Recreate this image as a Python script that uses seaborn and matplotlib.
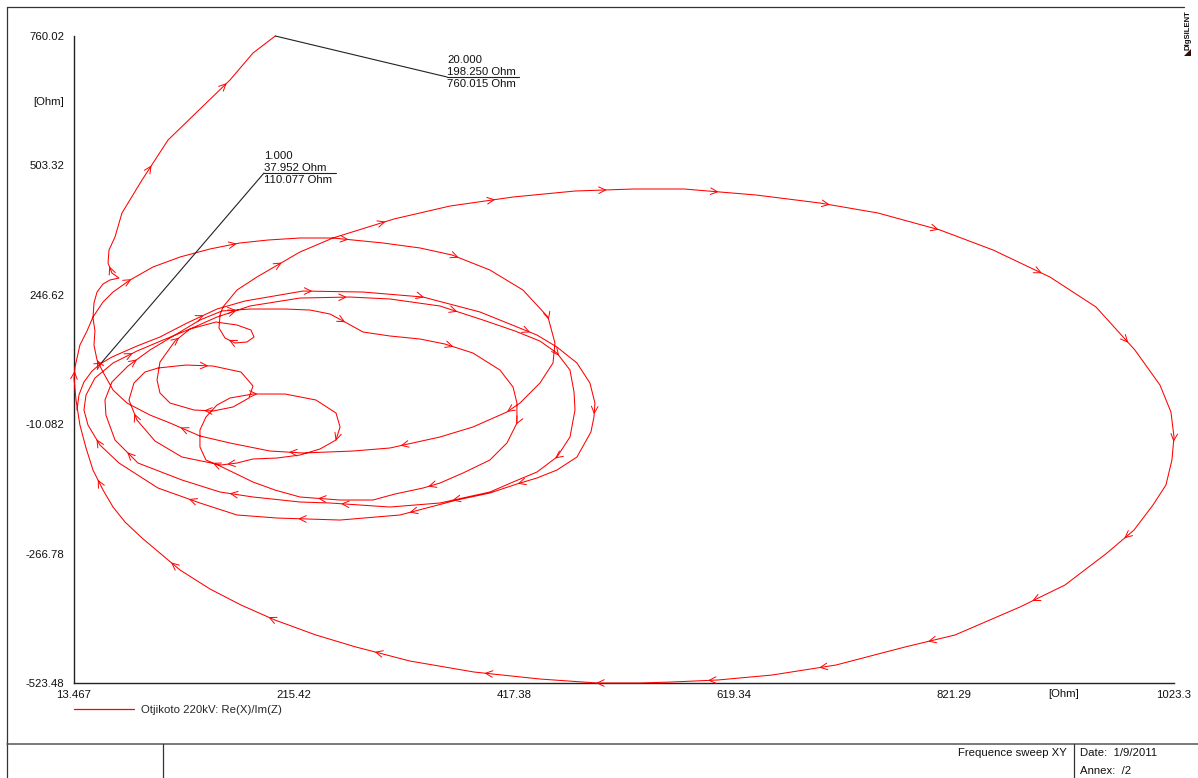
import numpy as np
import pandas as pd
import matplotlib
matplotlib.use("Agg")
import matplotlib.pyplot as plt
from matplotlib.lines import Line2D
from matplotlib.patches import Polygon
from matplotlib.transforms import IdentityTransform
import seaborn as sns

# Otjikoto 220kV impedance locus, Re(Z) against Im(Z) in Ohm, ordered by frequency
re_start = [16.2, 18.0, 22.6, 30.0, 37.952]
im_start = [18.1, 47.8, 73.6, 95.4, 110.077]

re_loop1 = [48.3, 71.3, 92.4, 117.2, 144.7, 170.4, 223.7, 278.8, 333.8, 386.2, 438.5, 456.8,
            475.2, 487.1, 491.7, 490.8, 488.0, 475.2, 456.8, 438.5, 420.1, 395.3, 365.0, 312.7,
            257.7, 199.8, 163.1, 129.1, 90.6, 54.8, 37.3, 26.3, 22.6]
im_loop1 = [123.2, 145.0, 162.9, 190.6, 218.4, 234.3, 254.1, 252.1, 242.2, 212.5, 166.8, 143.0,
            111.3, 71.6, 31.9, 4.2, -25.6, -75.2, -101.0, -116.8, -128.7, -146.6, -160.5, -190.2,
            -200.2, -196.2, -190.2, -166.4, -136.7, -87.1, -51.4, -11.7, 18.1]

re_loop2 = [24.5, 32.7, 49.3, 71.3, 95.2, 119.9, 144.7, 175.0, 220.9, 266.8, 303.5, 349.4,
            388.9, 418.3, 441.2, 456.8, 468.8, 472.5, 473.4, 468.8, 456.8, 438.5, 416.5, 395.3,
            349.4, 303.5, 248.5, 220.9, 177.8, 147.5, 112.6, 72.2, 51.1, 42.8, 41.9]
im_loop2 = [47.8, 81.5, 111.3, 135.1, 156.9, 178.7, 202.5, 224.4, 240.2, 242.2, 238.3, 224.4,
            196.6, 174.8, 154.9, 131.1, 97.4, 53.8, 18.1, -35.5, -75.2, -104.9, -124.8, -144.6,
            -166.4, -174.4, -166.4, -164.4, -154.5, -144.6, -120.8, -87.1, -41.4, 7.9, 37.9]

re_loop3 = [48.3, 63.0, 83.2, 106.2, 129.1, 149.3, 175.0, 207.2, 230.1, 248.5, 262.2, 278.8,
            303.5, 331.1, 354.0, 379.7, 404.5, 416.5, 420.1, 420.1, 410.9, 395.3, 370.6, 349.4,
            333.9, 308.1, 287.9, 257.7, 220.9, 198.0, 177.8, 147.5, 134.6]
im_loop3 = [73.6, 105.3, 137.1, 166.8, 196.6, 214.5, 218.4, 218.4, 216.4, 208.5, 192.6, 172.8,
            164.9, 158.9, 149.0, 131.1, 97.4, 63.7, 31.9, -7.9, -47.4, -81.1, -106.9, -126.8,
            -136.7, -148.6, -160.5, -160.5, -154.5, -140.7, -124.8, -93.0, -81.1]

re_loop4 = [129.1, 129.1, 134.6, 144.7, 156.7, 177.8, 207.2, 235.6, 254.0, 257.7, 254.0, 239.3,
            220.9, 199.8, 177.8, 163.1, 148.4, 112.6, 87.8, 71.3, 63.9, 68.5, 78.6]
im_loop4 = [-55.3, -21.6, 4.2, 27.9, 41.9, 49.8, 49.8, 37.9, 12.1, -15.6, -41.4, -59.3,
            -71.2, -77.2, -79.1, -87.1, -91.0, -75.2, -43.4, -1.9, 37.9, 71.6, 93.4]

re_loop5 = [90.6, 116.3, 141.1, 166.8, 177.8, 174.1, 159.4, 141.1, 123.6, 101.6, 92.4, 89.7,
            92.4, 106.2, 119.9, 143.8]
im_loop5 = [101.4, 107.3, 105.3, 93.4, 65.7, 41.9, 24.0, 16.1, 18.1, 31.9, 51.8, 77.6,
            113.3, 154.9, 178.7, 192.6]

re_loop6 = [163.1, 175.9, 178.7, 172.3, 161.3, 152.1, 146.6, 147.5, 150.2, 163.1, 181.4, 203.5, 220.9]
im_loop6 = [186.7, 176.8, 162.9, 153.0, 151.0, 160.9, 180.7, 206.5, 222.4, 256.1, 281.9, 309.7, 331.5]

re_loop7 = [251.2, 307.2, 358.6, 416.5, 473.4, 527.5, 573.4, 639.6, 698.3, 751.5, 808.4, 857.2,
            909.4, 951.7, 987.4, 1010.4, 1020.5, 1023.3, 1021.4, 1015.9, 1004.0, 986.6, 961.8,
            923.2, 881.9, 822.2, 776.3, 713.0, 654.2, 604.7, 562.4, 533.1, 493.6, 441.3, 380.7,
            321.9, 272.3, 235.6, 198.0, 166.8, 138.3, 110.8, 75.9, 60.3, 49.3, 40.1, 30.9, 24.5,
            18.9, 15.3, 13.467, 14.4, 16.2, 18.9, 25.4]
im_loop7 = [359.3, 397.0, 422.7, 440.6, 452.5, 456.5, 456.5, 444.6, 428.7, 408.9, 375.2, 335.5,
            281.9, 222.4, 137.1, 67.7, 14.1, -35.5, -81.1, -130.7, -170.4, -220.0, -265.6,
            -329.1, -372.7, -428.3, -452.1, -487.8, -507.7, -517.5, -521.5, -523.48, -523.48,
            -515.6, -501.7, -479.9, -452.1, -428.3, -398.6, -368.8, -337.0, -299.3, -235.9,
            -204.1, -174.4, -140.6, -101.0, -57.3, -11.7, 37.9, 81.5, 103.4, 121.2, 147.0, 174.8]

re_loop8 = [30.9, 40.1, 49.3, 64.9, 86.0, 110.8, 138.3, 165.8, 191.6, 220.9, 251.2, 297.1,
            331.1, 360.5, 395.3, 425.6, 448.6, 455.0, 453.2, 441.2, 422.9, 410.9, 379.7, 349.4,
            303.5, 269.6, 223.7, 193.4, 156.7, 129.1, 101.6, 83.2, 62.1, 49.3, 40.1, 34.6]
im_loop8 = [202.5, 232.3, 252.1, 276.0, 301.8, 321.6, 337.5, 349.4, 355.3, 359.3, 359.3, 349.4,
            339.5, 325.6, 295.8, 256.1, 202.5, 151.0, 111.3, 71.6, 31.9, 14.1, -15.6, -35.5,
            -57.3, -63.3, -67.2, -63.3, -47.4, -33.5, -7.7, 8.1, 31.9, 57.7, 93.4, 117.3]

re_end = [31.8, 32.7, 30.9, 31.8, 34.6, 40.1, 46.5, 54.8, 48.3, 44.7, 45.6, 51.1, 57.5,
          75.9, 99.8, 128.2, 156.7, 177.8, 198.25]
im_end = [147.0, 174.8, 200.6, 230.3, 252.1, 268.0, 276.0, 279.9, 289.8, 309.7, 335.5, 361.3,
          408.9, 474.3, 553.7, 613.2, 672.8, 726.3, 760.015]

# labelled sweep points: frequency, Re, Im
mark_freq = ["1.000", "20.000"]
mark_re = [37.952, 198.250]
mark_im = [110.077, 760.015]

x_ticks = [13.467, 215.42, 417.38, 619.34, 821.29, 1023.3]
x_tick_labels = ["13.467", "215.42", "417.38", "619.34", "821.29", "1023.3"]
y_ticks = [-523.48, -266.78, -10.082, 246.62, 503.32, 760.02]
y_tick_labels = ["-523.48", "-266.78", "-10.082", "246.62", "503.32", "760.02"]

series_name = "Otjikoto 220kV: Re(X)/Im(Z)"

re_all = np.concatenate([re_start, re_loop1, re_loop2, re_loop3, re_loop4, re_loop5,
                         re_loop6, re_loop7, re_loop8, re_end])
im_all = np.concatenate([im_start, im_loop1, im_loop2, im_loop3, im_loop4, im_loop5,
                         im_loop6, im_loop7, im_loop8, im_end])
df = pd.DataFrame({"re": re_all, "im": im_all, "order": np.arange(len(re_all))})

sns.set_theme(style="white")
plt.rcParams["font.family"] = ["Liberation Sans", "DejaVu Sans"]
FS = 8.2
RED = "#ff0000"
INK = "#111111"
W, H = 1198, 778


def fx(x):
    return x / W


def fy(y):
    return 1 - y / H


fig = plt.figure(figsize=(W / 100, H / 100), dpi=100, facecolor="white")
ax = fig.add_axes([fx(74), fy(683), 1100 / W, 647 / H])
ax.set_facecolor("white")

sns.lineplot(data=df, x="re", y="im", sort=False, estimator=None, color=RED,
             linewidth=0.75, ax=ax, legend=False, clip_on=False)

ax.set_xlim(13.467, 1023.3)
ax.set_ylim(-523.48, 760.02)
ax.set_xlabel("")
ax.set_ylabel("")
for side in ("top", "right"):
    ax.spines[side].set_visible(False)
for side in ("left", "bottom"):
    ax.spines[side].set_color("#222222")
    ax.spines[side].set_linewidth(1.0)
    ax.spines[side].set_zorder(1)
ax.set_xticks(x_ticks, x_tick_labels)
ax.set_yticks(y_ticks, y_tick_labels)
ax.tick_params(axis="both", length=0, labelsize=FS, colors=INK)
ax.tick_params(axis="x", pad=5)
ax.tick_params(axis="y", pad=7)
ax.grid(False)

# unit labels
fig.text(fx(49), fy(102), "[Ohm]", fontsize=FS, ha="center", va="center", color=INK)
fig.text(fx(1064), fy(694), "[Ohm]", fontsize=FS, ha="center", va="center", color=INK)

# direction arrows spaced along the locus in screen space
pts = ax.transData.transform(np.column_stack([re_all, im_all]))
seg = np.diff(pts, axis=0)
seglen = np.hypot(seg[:, 0], seg[:, 1])
cum = np.concatenate([[0.0], np.cumsum(seglen)])
for s in np.arange(55.0, cum[-1] - 10, 112.0):
    i = int(np.clip(np.searchsorted(cum, s) - 1, 0, len(seglen) - 1))
    if seglen[i] == 0:
        continue
    t = (s - cum[i]) / seglen[i]
    tip = pts[i] + t * seg[i]
    d = seg[i] / seglen[i]
    n = np.array([-d[1], d[0]])
    back = tip - 7.0 * d
    w1 = back + 3.3 * n
    w2 = back - 3.3 * n
    fig.add_artist(Line2D([w1[0], tip[0], w2[0]], [w1[1], tip[1], w2[1]],
                          transform=IdentityTransform(), color=RED, lw=0.7))

# marker labels for the 1.000 and 20.000 points: frequency, Re and Im stacked
label_anchor = [(264, 173), (447, 77)]
for f, r, i, (ax_px, ay_px) in zip(mark_freq, mark_re, mark_im, label_anchor):
    ax.annotate("", xy=(r, i), xycoords="data",
                xytext=(fx(ax_px), fy(ay_px)), textcoords="figure fraction",
                arrowprops=dict(arrowstyle="-", color="#222222", lw=0.8,
                                shrinkA=0, shrinkB=0))
    fig.add_artist(Line2D([fx(ax_px), fx(ax_px + 72)], [fy(ay_px), fy(ay_px)],
                          transform=fig.transFigure, color="#222222", lw=0.8))
    block = f"{f}\n{r:.3f} Ohm\n{i:.3f} Ohm"
    fig.text(fx(ax_px), fy(ay_px - 5), block, fontsize=FS, ha="left", va="center",
             linespacing=1.3, color=INK)

# legend below the plot
handle = Line2D([], [], color=RED, lw=0.9)
fig.legend([handle], [series_name], loc="center left", bbox_to_anchor=(fx(74), fy(710)),
           frameon=False, borderpad=0, borderaxespad=0, handlelength=5.3,
           handletextpad=0.6, fontsize=FS)

# page frame and title block
frame = "#333333"
fig.add_artist(Line2D([fx(7), fx(1184)], [fy(7), fy(7)], transform=fig.transFigure, color=frame, lw=0.9))
fig.add_artist(Line2D([fx(7), fx(7)], [fy(7), fy(778)], transform=fig.transFigure, color=frame, lw=0.9))
fig.add_artist(Line2D([fx(7), fx(1198)], [fy(744), fy(744)], transform=fig.transFigure, color="#555555", lw=1.1))
fig.add_artist(Line2D([fx(163), fx(163)], [fy(744), fy(778)], transform=fig.transFigure, color=frame, lw=0.9))
fig.add_artist(Line2D([fx(1074), fx(1074)], [fy(744), fy(778)], transform=fig.transFigure, color=frame, lw=0.9))
fig.text(fx(1067), fy(753), "Frequence sweep XY", fontsize=FS, ha="right", va="center", color=INK)
fig.text(fx(1080), fy(753), "Date:  1/9/2011", fontsize=FS, ha="left", va="center", color=INK)
fig.text(fx(1080), fy(771), "Annex:  /2", fontsize=FS, ha="left", va="center", color=INK)

# vendor mark
fig.text(fx(1188), fy(30), "DIgSILENT", fontsize=5.6, fontweight="bold", rotation=90,
         ha="center", va="center", color=INK)
fig.add_artist(Polygon([[fx(1184), fy(56)], [fx(1191), fy(56)], [fx(1191), fy(49)]],
                       closed=True, transform=fig.transFigure, facecolor="#3a0a0a",
                       edgecolor="none"))

fig.savefig("out.png", dpi=100, facecolor="white")
